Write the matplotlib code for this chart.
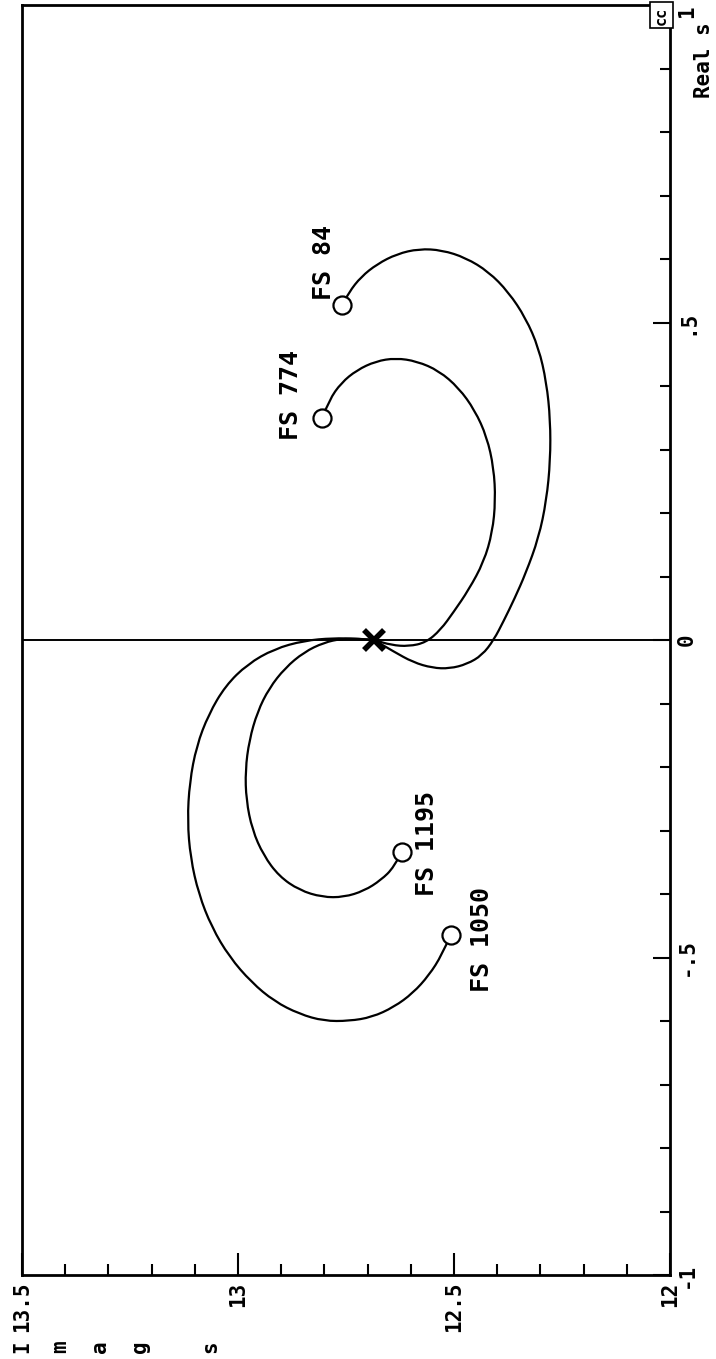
import matplotlib
matplotlib.use("Agg")
import matplotlib.pyplot as plt
from matplotlib.path import Path
from matplotlib.patches import PathPatch
from matplotlib.ticker import MultipleLocator

# Root-locus branches: (real, imaginary) pairs of s along each trajectory
fs84_real = [0.528, 0.548, 0.572, 0.592, 0.608, 0.616, 0.614, 0.602, 0.580, 0.548,
             0.507, 0.460, 0.406, 0.346, 0.283, 0.220, 0.161, 0.105, 0.065, 0.030,
             0.000, -0.024, -0.038, -0.045, -0.044, -0.035, -0.018, 0.000]
fs84_imag = [12.759, 12.743, 12.715, 12.678, 12.632, 12.581, 12.528, 12.473, 12.420, 12.374,
             12.334, 12.304, 12.286, 12.277, 12.277, 12.286, 12.304, 12.334, 12.360, 12.385,
             12.408, 12.435, 12.470, 12.510, 12.550, 12.595, 12.640, 12.685]

fs774_real = [0.350, 0.378, 0.405, 0.425, 0.439, 0.444, 0.439, 0.424, 0.397, 0.362,
              0.320, 0.271, 0.220, 0.170, 0.123, 0.079, 0.044, 0.016, -0.004, -0.010,
              -0.008, 0.000]
fs774_imag = [12.805, 12.789, 12.761, 12.725, 12.681, 12.635, 12.586, 12.535, 12.489, 12.452,
              12.424, 12.408, 12.404, 12.411, 12.431, 12.466, 12.501, 12.531, 12.565, 12.605,
              12.645, 12.685]

fs1195_real = [-0.334, -0.358, -0.378, -0.395, -0.405, -0.405, -0.394, -0.372, -0.339, -0.299,
               -0.252, -0.205, -0.158, -0.113, -0.076, -0.044, -0.019, -0.004, 0.002, 0.002,
               0.000]
fs1195_imag = [12.621, 12.639, 12.669, 12.708, 12.755, 12.805, 12.858, 12.905, 12.941, 12.967,
               12.981, 12.983, 12.974, 12.955, 12.928, 12.891, 12.847, 12.801, 12.760, 12.720,
               12.685]

fs1050_real = [-0.465, -0.496, -0.528, -0.556, -0.578, -0.594, -0.600, -0.600, -0.589, -0.569,
               -0.539, -0.499, -0.452, -0.400, -0.343, -0.284, -0.224, -0.167, -0.117, -0.072,
               -0.038, -0.014, -0.001, 0.003, 0.002, 0.000]
fs1050_imag = [12.508, 12.528, 12.558, 12.595, 12.639, 12.690, 12.743, 12.801, 12.858, 12.916,
               12.969, 13.020, 13.061, 13.091, 13.110, 13.117, 13.112, 13.096, 13.068, 13.029,
               12.978, 12.916, 12.847, 12.780, 12.725, 12.685]

branch_names = ["FS 84", "FS 774", "FS 1195", "FS 1050"]
label_real = [0.595, 0.386, -0.320, -0.472]
label_imag = [12.800, 12.877, 12.563, 12.436]

pole_real, pole_imag = 0.000, 12.685

real_ticks = [1, 0.5, 0, -0.5, -1]
real_tick_labels = ["1", ".5", "0", "-.5", "-1"]
imag_ticks = [13.5, 13, 12.5, 12]
imag_tick_labels = ["13.5", "13", "12.5", "12"]

FONT = "DejaVu Sans Mono"


def smooth_branch(xs, ys):
    """Quadratic Bezier path using the samples as control points."""
    verts = [(xs[0], ys[0])]
    codes = [Path.MOVETO]
    for i in range(1, len(xs) - 1):
        verts += [(xs[i], ys[i]), ((xs[i] + xs[i + 1]) / 2, (ys[i] + ys[i + 1]) / 2)]
        codes += [Path.CURVE3, Path.CURVE3]
    verts.append((xs[-1], ys[-1]))
    codes.append(Path.LINETO)
    return Path(verts, codes)


fig = plt.figure(figsize=(7.16, 13.59), dpi=100)
ax = fig.add_axes([22 / 716, 1 - 1275 / 1359, 648 / 716, 1270 / 1359])

ax.set_xlim(13.5, 12)
ax.set_ylim(-1, 1)

ax.axhline(0, color="black", lw=1.4, zorder=1)

branches = [(fs84_real, fs84_imag), (fs774_real, fs774_imag),
            (fs1195_real, fs1195_imag), (fs1050_real, fs1050_imag)]
for re, im in branches:
    ax.add_patch(PathPatch(smooth_branch(im, re), fill=False, ec="black", lw=1.6, zorder=2))
    ax.plot(im[0], re[0], marker="o", ms=13, mfc="white", mec="black", mew=1.6, zorder=3)

ax.plot(pole_imag, pole_real, marker="x", ms=15, mec="black", mew=4, zorder=4)

for name, lr, li in zip(branch_names, label_real, label_imag):
    ax.text(li, lr, name, rotation=90, ha="center", va="center",
            fontsize=18, fontweight="bold", family=FONT)

# axes frame and ticks
for sp in ax.spines.values():
    sp.set_linewidth(2.0)

ax.yaxis.tick_right()
ax.set_yticks(real_ticks, labels=real_tick_labels)
ax.yaxis.set_minor_locator(MultipleLocator(0.1))
ax.set_xticks(imag_ticks, labels=imag_tick_labels)
ax.xaxis.set_minor_locator(MultipleLocator(0.1))

ax.tick_params(axis="y", which="major", direction="in", length=12, width=1.5,
               pad=5, labelsize=15, right=True, left=False)
ax.tick_params(axis="y", which="minor", direction="in", length=7, width=1.5,
               right=True, left=False)
ax.tick_params(axis="x", which="major", direction="in", length=16, width=1.5,
               pad=5, labelsize=15, bottom=True, top=False)
ax.tick_params(axis="x", which="minor", direction="in", length=8, width=1.5,
               bottom=True, top=False)

ylabels = ax.get_yticklabels()
for lab in ylabels:
    lab.set_rotation(90)
    lab.set_va("center")
    lab.set_fontfamily(FONT)
    lab.set_fontweight("bold")
ylabels[0].set_va("top")
for lab in ax.get_xticklabels():
    lab.set_rotation(90)
    lab.set_ha("center")
    lab.set_fontfamily(FONT)
    lab.set_fontweight("bold")

# axis captions
fig.text(704 / 716, 1 - 60 / 1359, "Real s", rotation=90, ha="center", va="center",
         fontsize=15, fontweight="bold", family=FONT)
imag_chars = ["I", "m", "a", "g", "s"]
imag_char_x = [22, 60, 100, 140, 210]
for ch, cx in zip(imag_chars, imag_char_x):
    fig.text(cx / 716, 1 - 1347 / 1359, ch, rotation=90, ha="center",
             va="center", fontsize=15, fontweight="bold", family=FONT)

ax.text(0.998, 0.999, "cc", rotation=90, ha="right", va="top", transform=ax.transAxes,
        fontsize=11, fontweight="bold", family=FONT,
        bbox=dict(boxstyle="square,pad=0.25", fc="white", ec="black", lw=1.2))

fig.savefig("out.png", dpi=100)
